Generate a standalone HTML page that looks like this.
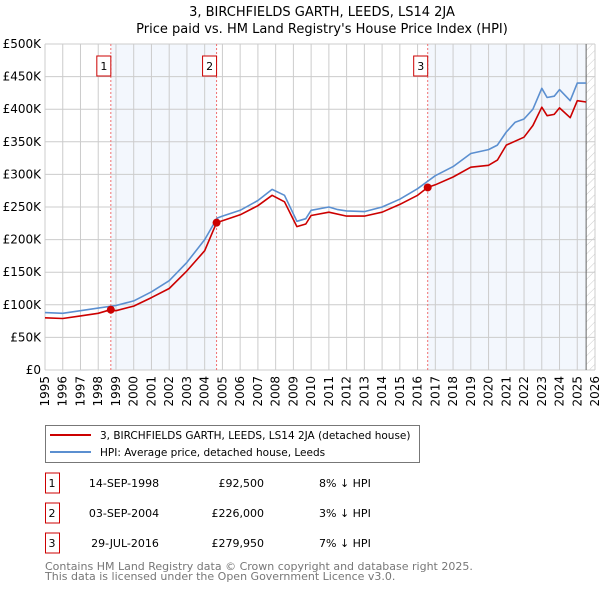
<!DOCTYPE html>
<html><head><meta charset="utf-8"><style>
body{margin:0;background:#fff;font-family:"DejaVu Sans","Liberation Sans",sans-serif}
svg text{font-family:"DejaVu Sans","Liberation Sans",sans-serif}
</style></head><body>
<svg id="c" width="600" height="590" viewBox="0 0 600 590" xmlns="http://www.w3.org/2000/svg">
<defs><pattern id="hatch" width="6" height="6" patternUnits="userSpaceOnUse" patternTransform="rotate(45)"><line x1="0" y1="0" x2="0" y2="6" stroke="#ccc" stroke-width="1"/></pattern></defs>
<text x="322" y="16" text-anchor="middle" font-size="13">3, BIRCHFIELDS GARTH, LEEDS, LS14 2JA</text>
<text x="322" y="33" text-anchor="middle" font-size="13">Price paid vs. HM Land Registry's House Price Index (HPI)</text>
<g id="plot"></g>
<g>
<rect x="45.5" y="425.5" width="374" height="37" fill="#fff" stroke="#777"/>
<line x1="50" y1="435" x2="91" y2="435" stroke="#cc0000" stroke-width="2"/>
<text x="100" y="439" font-size="10.5">3, BIRCHFIELDS GARTH, LEEDS, LS14 2JA (detached house)</text>
<line x1="50" y1="452" x2="91" y2="452" stroke="#5b8fd0" stroke-width="2"/>
<text x="100" y="456" font-size="10.5">HPI: Average price, detached house, Leeds</text>
</g>
<g id="tbl" font-size="11"></g>
<text x="45" y="570" font-size="11" fill="#777">Contains HM Land Registry data © Crown copyright and database right 2025.</text>
<text x="45" y="580" font-size="11" fill="#777">This data is licensed under the Open Government Licence v3.0.</text>
</svg>
<script>
const hpiYears=[1995,1996,1997,1998,1999,2000,2001,2002,2003,2004,2004.7,2005,2006,2007,2007.8,2008.5,2009.2,2009.7,2010,2011,2011.5,2012,2013,2014,2015,2016,2016.6,2017,2018,2019,2020,2020.5,2021,2021.5,2022,2022.5,2023,2023.3,2023.7,2024,2024.6,2025,2025.5];
const hpiValues=[88,87,91,95,99,106,120,137,165,200,233,236,245,260,277,268,228,232,245,250,246,244,243,250,262,278,290,298,312,332,338,345,365,380,385,400,432,418,420,430,413,440,440];
const propYears=[1995,1996,1997,1998,1998.7,1999,2000,2001,2002,2003,2004,2004.67,2005,2006,2007,2007.8,2008.5,2009.2,2009.7,2010,2011,2012,2013,2014,2015,2016,2016.57,2017,2018,2019,2020,2020.5,2021,2022,2022.5,2023,2023.3,2023.7,2024,2024.6,2025,2025.5];
const propValues=[80,79,83,87,92.5,91,98,111,125,152,183,226,229,238,252,268,258,220,224,237,242,236,236,242,254,268,280,284,296,311,314,322,345,357,375,403,390,392,402,387,413,411];
const saleLabels=["1","2","3"];
const saleYears=[1998.71,2004.67,2016.57];
const saleValues=[92.5,226,279.95];
const saleDates=["14-SEP-1998","03-SEP-2004","29-JUL-2016"];
const salePrices=["£92,500","£226,000","£279,950"];
const saleDiffs=["8% ↓ HPI","3% ↓ HPI","7% ↓ HPI"];
const yTicks=[0,50,100,150,200,250,300,350,400,450,500];
const yTickLabels=["£0","£50K","£100K","£150K","£200K","£250K","£300K","£350K","£400K","£450K","£500K"];
const xTicks=[1995,1996,1997,1998,1999,2000,2001,2002,2003,2004,2005,2006,2007,2008,2009,2010,2011,2012,2013,2014,2015,2016,2017,2018,2019,2020,2021,2022,2023,2024,2025,2026];

const X0=45,X1=595,Y0=370,Y1=44;
const sx=y=>X0+(y-1995)/(2026-1995)*(X1-X0);
const sy=v=>Y0-v/500*(Y0-Y1);
const NS="http://www.w3.org/2000/svg";
const plot=document.getElementById('plot');
function mk(tag,attrs,parent){const e=document.createElementNS(NS,tag);for(const k in attrs)e.setAttribute(k,attrs[k]);(parent||plot).appendChild(e);return e;}
let r=mk('rect',{x:sx(saleYears[0]),y:Y1,width:sx(saleYears[1])-sx(saleYears[0]),height:Y0-Y1,fill:'#eef3fc',opacity:0.7});


r=mk('rect',{x:sx(saleYears[2]),y:Y1,width:sx(2025.5)-sx(saleYears[2]),height:Y0-Y1,fill:'#eef3fc',opacity:0.7});


r=mk('rect',{x:sx(2025.5),y:Y1,width:X1-sx(2025.5),height:Y0-Y1,fill:'url(#hatch)'});


yTicks.forEach((v,i)=>{
 const l=mk('line',{x1:X0,x2:X1,y1:sy(v),y2:sy(v),stroke:'#ccc'});
 
 
 const t=mk('text',{x:X0-4,y:sy(v)+4,'text-anchor':'end','font-size':'12'});
 t.textContent=yTickLabels[i];
 
 
});
xTicks.forEach(y=>{
 const l=mk('line',{x1:sx(y),x2:sx(y),y1:Y1,y2:Y0,stroke:'#ccc'});
 
 
 const t=mk('text',{x:0,y:0,'text-anchor':'end','font-size':'12',transform:`translate(${sx(y)+4},${Y0+6}) rotate(-90)`});
 t.textContent=y;
 
 
});
let l=mk('line',{x1:sx(2025.5),x2:sx(2025.5),y1:Y1,y2:Y0,stroke:'#666'});


saleYears.forEach((y,i)=>{
 const d=mk('line',{x1:sx(y),x2:sx(y),y1:Y1,y2:Y0,stroke:'#f07070','stroke-dasharray':'2,2'});
 
 
 const b=mk('rect',{x:sx(y)-14,y:56,width:14,height:20,fill:'#fff',stroke:'#cc0000'});
 
 
 const t=mk('text',{x:sx(y)-7,y:70,'text-anchor':'middle','font-size':'11'});
 t.textContent=saleLabels[i];
 
 
});
function path(xs,vs,col,name){
 const d=xs.map((x,i)=>(i?'L':'M')+sx(x).toFixed(1)+','+sy(vs[i]).toFixed(1)).join('');
 const p=mk('path',{d:d,fill:'none',stroke:col,'stroke-width':1.6,'stroke-linejoin':'round'});
 
 
}
path(hpiYears,hpiValues,'#5b8fd0','hpi-line');
path(propYears,propValues,'#cc0000','property-line');
saleYears.forEach((y,i)=>{
 const c=mk('circle',{cx:sx(y),cy:sy(saleValues[i]),r:4,fill:'#cc0000'});
 
 
});
const tbl=document.getElementById('tbl');
saleLabels.forEach((s,i)=>{
 const yc=483+i*30;
 const b=mk('rect',{x:45.5,y:yc-10,width:14,height:20,fill:'#fff',stroke:'#cc0000'},tbl);
 
 
 const cells=[[s,52,'middle'],[saleDates[i],i==2?125:124,'middle'],[salePrices[i],264,'end'],[saleDiffs[i],319,'start']];
 cells.forEach(([txt,x,a],j)=>{
  const t=mk('text',{x:x,y:yc+4,'text-anchor':a},tbl);
  t.textContent=txt;
  
  
 });
});
</script>
</body></html>
